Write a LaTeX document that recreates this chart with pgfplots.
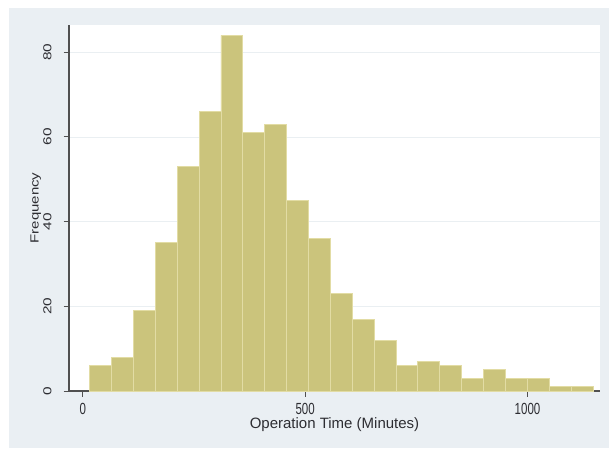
\documentclass[border=0pt]{standalone}
\usepackage{fontspec}
\setmainfont{Liberation Sans}
\usepackage{graphicx}
\usepackage{pgfplots}
\pgfplotsset{compat=1.18}
\definecolor{bgc}{RGB}{234,239,243}
\definecolor{barfill}{RGB}{203,196,124}
\definecolor{baredge}{RGB}{226,220,164}
\definecolor{gridc}{RGB}{234,239,242}
\definecolor{axc}{RGB}{80,80,80}
\definecolor{txt}{RGB}{45,45,50}
\newcommand\sx[1]{\scalebox{1}[1.4]{#1}}
\newcommand\sy[1]{\scalebox{1.34}[1]{#1}}
\begin{document}
\begin{tikzpicture}[x=1pt,y=1pt]
\fill[white] (0,0) rectangle (609,448);
\fill[bgc] (9,0) rectangle (609,440);
\begin{axis}[
  at={(69pt,57pt)}, anchor=south west,
  scale only axis, width=531pt, height=366pt,
  xmin=-30.8, xmax=1163, ymin=0, ymax=86.44,
  axis x line*=bottom, axis y line*=left,
  axis line style={-, draw=axc, line width=1.2pt},
  axis background/.style={fill=white},
  tick align=outside, major tick length=5.5pt,
  tick style={draw=axc, line width=1pt},
  xtick={0,500,1000}, xticklabels={\sx{0},\sx{500},\sx{1000}},
  ytick={0,20,40,60,80}, yticklabels={\sy{0},\sy{20},\sy{40},\sy{60},\sy{80}},
  xticklabel style={font=\fontsize{11.5}{13}\selectfont, text=txt, anchor=north, inner sep=0pt, yshift=-6.5pt},
  yticklabel style={font=\fontsize{11.5}{13}\selectfont, text=txt, xshift=-11.8pt, rotate=90, anchor=south, inner sep=0pt},
  ymajorgrids, major grid style={draw=gridc, line width=0.9pt},
  xlabel={Operation Time (Minutes)},
  ylabel={\scalebox{1.27}[1]{Frequency}},
  every axis x label/.style={at={(axis description cs:0.5,0)}, anchor=base, inner sep=0pt, yshift=-37.7pt, font=\fontsize{15}{17}\selectfont, text=txt},
  every axis y label/.style={at={(axis description cs:0,0.5)}, xshift=-30.5pt, rotate=90, anchor=base, inner sep=0pt, font=\fontsize{11.8}{14}\selectfont, text=txt},
  clip=false,
]
\addplot[ybar interval, fill=barfill, draw=baredge, line width=0.8pt] coordinates {
(15.5,6) (64.7,8) (113.9,19) (163.1,35) (212.3,53) (261.5,66) (310.7,84)
(359.9,61) (409.1,63) (458.3,45) (507.5,36) (556.7,23) (605.9,17) (655.1,12)
(704.3,6) (753.5,7) (802.7,6) (851.9,3) (901.1,5) (950.3,3) (999.5,3)
(1048.7,1) (1097.9,1) (1147.1,1)
};
\end{axis}
\pgfresetboundingbox
\useasboundingbox (0,0) rectangle (609,448);
\end{tikzpicture}
\end{document}
